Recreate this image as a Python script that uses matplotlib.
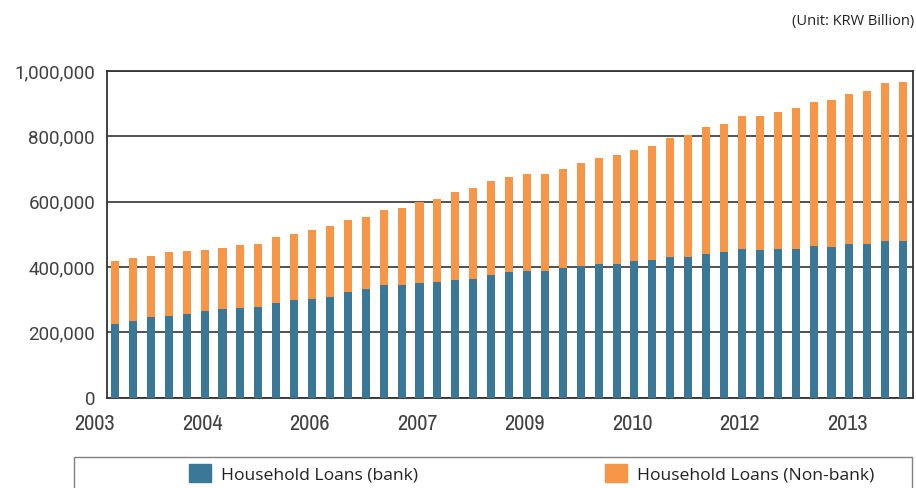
import matplotlib
matplotlib.use("Agg")
import matplotlib.pyplot as plt
from matplotlib.patches import Rectangle, Patch
from matplotlib import font_manager
import numpy as np

# Quarterly household loans (KRW billion), 45 quarters
bank = [225500, 234700, 246900, 250000, 256100, 265300, 271400, 274500, 277600,
        289800, 299000, 302000, 308200, 323500, 332700, 344900, 344900, 351000,
        354100, 360200, 363300, 375500, 384700, 387800, 387800, 396900, 403100,
        409200, 409200, 418400, 421400, 430600, 430600, 439800, 445900, 455100,
        452000, 455100, 455100, 464300, 461200, 470400, 470400, 479600, 479600]
nonbank = [192900, 192900, 186800, 195900, 192900, 186700, 186800, 192800, 192800,
           202000, 202000, 211300, 217300, 220400, 220400, 229600, 235700, 248000,
           254100, 269400, 278500, 287800, 290800, 296900, 296900, 303100, 315300,
           324500, 333700, 339800, 349000, 364300, 373500, 388800, 391900, 407100,
           410200, 419400, 431600, 440800, 450000, 459200, 468400, 483700, 486700]
tick_idx = [0, 6, 12, 18, 24, 30, 36, 42]
tick_labels = ["2003", "2004", "2006", "2007", "2009", "2010", "2012", "2013"]
yticks = [0, 200000, 400000, 600000, 800000, 1000000]
series_names = ["Household Loans (bank)", "Household Loans (Non-bank)"]

BLUE = "#3B7898"
ORANGE = "#F79646"
GRID = "#333333"
TXT = "#404040"

# find an upright, regular-weight condensed font for the x labels
cond_fp = None
cands = []
for f in font_manager.fontManager.ttflist:
    if f.style != "normal":
        continue
    if f.weight not in ("normal", "regular", "book", 400):
        continue
    fname = f.fname.lower()
    if "narrow" in f.name.lower() or "narrow" in fname:
        cands.append((0, f.fname))
    elif "condensed" in fname and "bold" not in fname and "oblique" not in fname and "italic" not in fname:
        cands.append((1, f.fname))
if cands:
    cands.sort()
    cond_fp = font_manager.FontProperties(fname=cands[0][1])
else:
    cond_fp = font_manager.FontProperties(family="DejaVu Sans")
cond_fp.set_size(16)

W, H = 916, 488
fig = plt.figure(figsize=(W / 100, H / 100), dpi=100)
ax = fig.add_axes([106.7 / W, 1 - 397.7 / H, (912.7 - 106.7) / W, (397.7 - 71) / H])

x = np.arange(len(bank))
ax.bar(x, bank, width=0.45, color=BLUE, zorder=3)
ax.bar(x, nonbank, width=0.45, bottom=bank, color=ORANGE, zorder=3)

ax.set_xlim(-0.465, len(bank) - 0.465)
ax.set_ylim(0, 1000000)
ax.set_yticks(yticks)
ax.set_yticklabels([f"{v:,}" for v in yticks], fontfamily="Roboto", fontsize=13.5, color=TXT)
ax.yaxis.grid(True, color=GRID, lw=1.2, zorder=1)
ax.set_axisbelow(True)

ax.set_xticks(tick_idx)
ax.set_xticklabels(tick_labels, fontproperties=cond_fp, color=TXT, ha="right")
ax.tick_params(axis="x", length=0, pad=12)
ax.tick_params(axis="y", length=0, pad=8.4)

for s in ax.spines.values():
    s.set_color(GRID)
    s.set_linewidth(1.3)

# Unit note
fig.text(914 / W, 1 - 21 / H, "(Unit: KRW Billion)", ha="right", va="center",
         fontfamily="Open Sans", fontsize=10.5, color="#222222")

# Legend frame (cut off at bottom)
fig.patches.append(Rectangle((74 / W, -0.05), (912 - 74) / W, 0.05 + 1 - 456.5 / H,
                             transform=fig.transFigure, fill=False,
                             edgecolor="#808080", lw=1.0))

leg_kw = dict(loc="center left", frameon=False, borderpad=0, borderaxespad=0,
              handlelength=1.25, handleheight=1.25, handletextpad=0.6,
              prop={"family": "Open Sans", "size": 12.6})
l1 = fig.legend(handles=[Patch(color=BLUE, label=series_names[0])],
                bbox_to_anchor=(189 / W, 1 - 473.5 / H), **leg_kw)
for t in l1.get_texts():
    t.set_color("#222222")
l2 = fig.legend(handles=[Patch(color=ORANGE, label=series_names[1])],
                bbox_to_anchor=(605 / W, 1 - 473.5 / H), **leg_kw)
for t in l2.get_texts():
    t.set_color("#222222")

fig.savefig("out.png", dpi=100)
